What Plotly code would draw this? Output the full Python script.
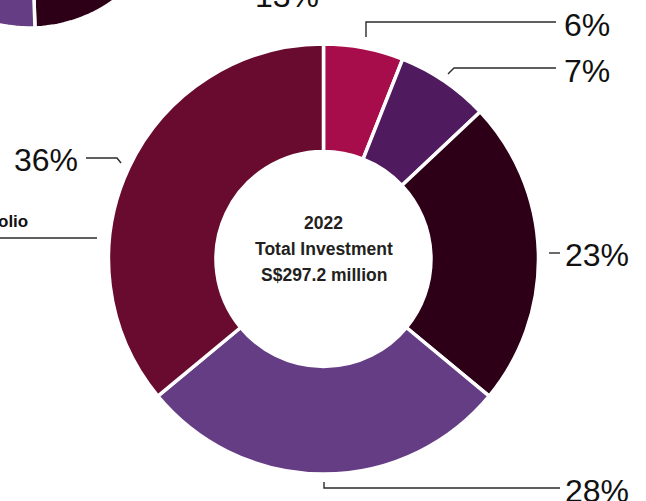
import numpy as np
import plotly.graph_objects as go

# ---- data ----
labels = ["6%", "7%", "23%", "28%", "36%"]
values = [6, 7, 23, 28, 36]
colors = ["#A80D4B", "#4F1A5E", "#2D0017", "#653D85", "#690B2F"]
center_lines = ["2022", "Total Investment", "S$297.2 million"]

W, H = 646, 501
cx, cy, R = 323.5, 259, 215

fig = go.Figure()
fig.add_trace(go.Pie(
    values=values, labels=labels, sort=False, direction="clockwise", rotation=0,
    hole=0.5, textinfo="none", hoverinfo="label",
    marker=dict(colors=colors, line=dict(color="white", width=3.5)),
    domain=dict(x=[(cx - R) / W, (cx + R) / W], y=[(H - cy - R) / H, (H - cy + R) / H]),
    showlegend=False,
))

line_col = "#2b2b2b"
shapes = []
annotations = []

def add_path(pts, width=1.4):
    d = "M " + " L ".join(f"{x},{y}" for x, y in pts)
    shapes.append(dict(type="path", path=d, xref="x", yref="y",
                       line=dict(color=line_col, width=width)))

def add_text(txt, x, y, xanchor, size=32, bold=False, xshift=0, yshift=0):
    annotations.append(dict(text=f"<b>{txt}</b>" if bold else txt, x=x, y=y, xref="x", yref="y",
                            xanchor=xanchor, yanchor="middle", showarrow=False,
                            xshift=xshift, yshift=yshift,
                            font=dict(size=size, color="#111111", family="Liberation Sans")))

# leader lines (layout styling)
add_path([(366, 37), (366, 22), (556, 22)])
add_text(labels[0], 562, 25, "left")
add_path([(448, 74), (454, 68), (556, 68)])
add_text(labels[1], 562, 71, "left")
add_path([(549, 253), (560, 253)])
add_text(labels[2], 563, 255, "left")
add_path([(324, 482), (324, 488), (560, 488)])
add_text(labels[3], 563, 491, "left")
add_path([(86, 158), (117, 158), (121, 163)])
add_text(labels[4], 80, 160, "right")

# partial neighbouring chart elements (cropped in reference)
add_text("olio", 1, 221, "left", size=17, bold=True, xshift=-5)
add_path([(0, 238), (97, 238)])
add_text("13%", 287, 1, "center", yshift=5)

# partial donut from neighbouring chart
pcx, pcy, pR, ph = 30, -115, 143, 0.55
def wedge(a0, a1, col):
    a = np.linspace(np.radians(a0), np.radians(a1), 60)
    outer = [(pcx + pR * np.sin(t), pcy - pR * np.cos(t)) for t in a]
    inner = [(pcx + pR * ph * np.sin(t), pcy - pR * ph * np.cos(t)) for t in a[::-1]]
    pts = outer + inner
    d = "M " + " L ".join(f"{x:.1f},{y:.1f}" for x, y in pts) + " Z"
    shapes.append(dict(type="path", path=d, xref="x", yref="y", fillcolor=col,
                       line=dict(color="white", width=3.5), layer="below"))
wedge(90, 178, "#2D0017")
wedge(178, 270, "#653D85")

# centre text
for i, t in enumerate(center_lines):
    annotations.append(dict(text=f"<b>{t}</b>", x=cx, y=223 + i * 26, xref="x", yref="y",
                            xanchor="center", yanchor="middle", showarrow=False,
                            font=dict(size=17.5, color="#231F20", family="Liberation Sans")))

fig.update_layout(
    width=W, height=H, margin=dict(l=0, r=0, t=0, b=0),
    paper_bgcolor="white", plot_bgcolor="white",
    xaxis=dict(range=[0, W], visible=False, fixedrange=True),
    yaxis=dict(range=[H, 0], visible=False, fixedrange=True),
    shapes=shapes, annotations=annotations,
)
fig.write_html("out.html", config={"displayModeBar": False},
               post_script="document.body.style.margin='0';")
